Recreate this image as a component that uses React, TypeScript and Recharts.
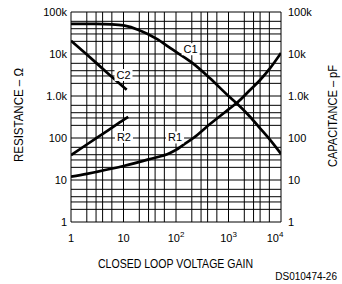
import React from 'react';
import { LineChart, Line, XAxis, YAxis, ReferenceLine, ReferenceDot } from 'recharts';

const GAIN_TICKS = [1, 10, 100, 1000, 10000];
const GAIN_TICK_BASE = ['1', '10', '10', '10', '10'];
const GAIN_TICK_EXP = ['', '', '2', '3', '4'];
const VALUE_TICKS = [1, 10, 100, 1000, 10000, 100000];
const VALUE_TICK_LABELS = ['1', '10', '100', '1.0k', '10k', '100k'];

const GRID_GAINS = [1, 2, 3, 4, 6, 10, 20, 30, 40, 60, 100, 200, 300, 400, 600, 1000, 2000, 3000, 4000, 6000, 10000];
const GRID_VALUES = [
  1, 2, 3, 4, 6, 10, 20, 30, 40, 60, 100, 200, 300, 400, 600, 1000, 2000, 3000, 4000, 6000,
  10000, 20000, 30000, 40000, 60000, 100000,
];

// C1, C2 in pF (right axis); R1, R2 in ohms (left axis)
const C1_GAIN = [1, 3, 6, 10, 20, 43, 77, 100, 210, 444, 1000, 1430, 2570, 4000, 6200, 10000];
const C1_PF = [52000, 52000, 51000, 48000, 37000, 23000, 14000, 11200, 6000, 2650, 1000, 670, 320, 170, 90, 42];

const C2_GAIN = [1, 2, 5, 10, 11.5];
const C2_PF = [20700, 9700, 3500, 1640, 1400];

const R1_GAIN = [1, 2, 3, 10, 30, 77, 100, 136, 214, 444, 1000, 1430, 2570, 4000, 6200, 10000];
const R1_OHM = [12, 14, 15.5, 21.5, 31, 44, 52, 68, 100, 215, 480, 680, 1390, 2400, 4600, 10600];

const R2_GAIN = [1, 2, 5, 10, 12.3];
const R2_OHM = [39, 70, 150, 270, 320];

const TAG_NAMES = ['C1', 'C2', 'R1', 'R2'];
const TAG_GAIN = [190, 10, 96, 10.2];
const TAG_VALUE = [13000, 3160, 103, 106];

const toRows = (gains: number[], values: number[]) => gains.map((g, i) => ({ gain: g, value: values[i] }));

const FONT = "'Liberation Sans', Arial, sans-serif";
const TITLE_FONT = "'Liberation Sans Narrow', 'Liberation Sans', Arial, sans-serif";

const GainTick = ({ x, y, payload }: any) => {
  const i = GAIN_TICKS.indexOf(payload.value);
  const shift = i === GAIN_TICKS.length - 1 ? -6 : 0;
  return (
    <text x={x + shift} y={y + 20} textAnchor="middle" fontFamily={FONT} fontSize={11} fill="#000">
      {GAIN_TICK_BASE[i]}
      {GAIN_TICK_EXP[i] && (
        <tspan fontSize={8} dy={-5}>
          {GAIN_TICK_EXP[i]}
        </tspan>
      )}
    </text>
  );
};

const LeftTick = ({ x, y, payload }: any) => (
  <text x={x - 4} y={y + 4} textAnchor="end" fontFamily={FONT} fontSize={11} fill="#000">
    {VALUE_TICK_LABELS[VALUE_TICKS.indexOf(payload.value)]}
  </text>
);

const RightTick = ({ x, y, payload }: any) => (
  <text x={x + 7} y={y + 4} textAnchor="start" fontFamily={FONT} fontSize={11} fill="#000">
    {VALUE_TICK_LABELS[VALUE_TICKS.indexOf(payload.value)]}
  </text>
);

const XTitle = ({ viewBox }: any) => (
  <text
    x={viewBox.x + 27}
    y={viewBox.y + 46}
    fontFamily={TITLE_FONT}
    fontSize={12}
    textLength={155}
    lengthAdjust="spacingAndGlyphs"
    fill="#000"
  >
    CLOSED LOOP VOLTAGE GAIN
  </text>
);

const LeftTitle = ({ viewBox }: any) => (
  <text
    transform={`translate(23, ${viewBox.y + 150}) rotate(-90)`}
    fontFamily={TITLE_FONT}
    fontSize={12}
    textLength={94}
    lengthAdjust="spacingAndGlyphs"
    fill="#000"
  >
    RESISTANCE – Ω
  </text>
);

const RightTitle = ({ viewBox }: any) => (
  <text
    transform={`translate(337, ${viewBox.y + 155}) rotate(-90)`}
    fontFamily={TITLE_FONT}
    fontSize={12}
    textLength={102}
    lengthAdjust="spacingAndGlyphs"
    fill="#000"
  >
    CAPACITANCE – pF
  </text>
);

const CurveTag = ({ cx, cy, text }: any) => (
  <g>
    <rect x={cx - 9} y={cy - 6} width={18} height={12} fill="#fff" />
    <text x={cx} y={cy + 4} textAnchor="middle" fontFamily={TITLE_FONT} fontSize={11} fill="#000">
      {text}
    </text>
  </g>
);

export default function App() {
  const curves = [
    { key: 'C1', rows: toRows(C1_GAIN, C1_PF), axis: 'right' },
    { key: 'C2', rows: toRows(C2_GAIN, C2_PF), axis: 'right' },
    { key: 'R1', rows: toRows(R1_GAIN, R1_OHM), axis: 'left' },
    { key: 'R2', rows: toRows(R2_GAIN, R2_OHM), axis: 'left' },
  ];

  return (
    <div style={{ position: 'absolute', left: 0, top: 0, width: 342, height: 284, background: '#fff' }}>
      <LineChart width={342} height={284} margin={{ top: 12, right: 11, bottom: 32, left: 21 }}>
        <XAxis
          dataKey="gain"
          type="number"
          scale="log"
          domain={[1, 10000]}
          ticks={GAIN_TICKS}
          allowDataOverflow
          axisLine={false}
          tickLine={false}
          tickSize={0}
          tickMargin={0}
          height={30}
          tick={<GainTick />}
          label={<XTitle />}
        />
        <YAxis
          yAxisId="left"
          type="number"
          scale="log"
          domain={[1, 100000]}
          ticks={VALUE_TICKS}
          allowDataOverflow
          axisLine={false}
          tickLine={false}
          tickSize={0}
          tickMargin={0}
          width={50}
          tick={<LeftTick />}
          label={<LeftTitle />}
        />
        <YAxis
          yAxisId="right"
          orientation="right"
          type="number"
          scale="log"
          domain={[1, 100000]}
          ticks={VALUE_TICKS}
          allowDataOverflow
          axisLine={false}
          tickLine={false}
          tickSize={0}
          tickMargin={0}
          width={50}
          tick={<RightTick />}
          label={<RightTitle />}
        />
        {GRID_GAINS.map((g) => (
          <ReferenceLine key={`gx${g}`} x={g} yAxisId="left" stroke="#000" strokeWidth={1} ifOverflow="visible" />
        ))}
        {GRID_VALUES.map((v) => (
          <ReferenceLine key={`gy${v}`} y={v} yAxisId="left" stroke="#000" strokeWidth={1} ifOverflow="visible" />
        ))}
        {curves.map((c) => (
          <Line
            key={c.key}
            data={c.rows}
            dataKey="value"
            yAxisId={c.axis}
            type="monotone"
            stroke="#000"
            strokeWidth={2.7}
            dot={false}
            isAnimationActive={false}
          />
        ))}
        {TAG_NAMES.map((name, i) => (
          <ReferenceDot
            key={name}
            yAxisId="left"
            x={TAG_GAIN[i]}
            y={TAG_VALUE[i]}
            r={0}
            shape={(p: any) => <CurveTag cx={p.cx} cy={p.cy} text={name} />}
          />
        ))}
      </LineChart>
      <svg width={342} height={284} style={{ position: 'absolute', left: 0, top: 0, pointerEvents: 'none' }}>
        <text x={337} y={280} textAnchor="end" fontFamily={FONT} fontSize={10} fill="#000">
          DS010474-26
        </text>
      </svg>
    </div>
  );
}
